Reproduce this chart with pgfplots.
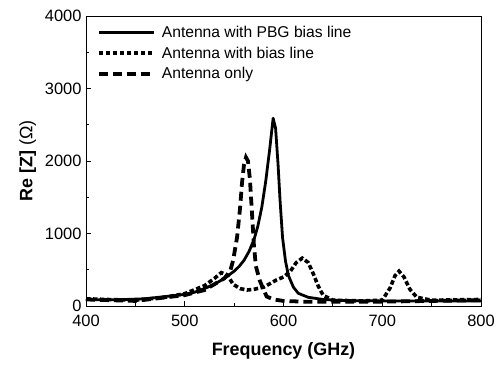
\documentclass[border=0pt]{standalone}
\usepackage{pgfplots}
\pgfplotsset{compat=1.18}
\usepackage{fontspec}
\setmainfont{Liberation Sans}
\begin{document}
\begin{tikzpicture}
\begin{axis}[
  scale only axis, width=395bp, height=290bp,
  xmin=400, xmax=800, ymin=0, ymax=4000,
  xtick={400,500,600,700,800}, ytick={0,1000,2000,3000,4000},
  minor x tick num=1, minor y tick num=1,
  tick pos=left, tick align=inside,
  major tick length=5bp, minor tick length=3bp,
  axis line style={line width=1pt}, tick style={line width=0.8pt, black},
  /pgf/number format/assume math mode=true,
  /pgf/number format/1000 sep={},
  tick label style={font=\fontsize{16.5}{18}\selectfont},
  xticklabel style={yshift=-6bp},
  yticklabel style={xshift=-1bp},
  xlabel={\bfseries Frequency (GHz)},
  ylabel={{\bfseries Re [Z]} (Ω)},
  label style={font=\fontsize{18}{20}\selectfont},
  xlabel style={yshift=-9bp},
  ylabel style={yshift=2bp},
  legend style={draw=none, fill=none, at={(0.02,0.98)}, anchor=north west,
    font=\fontsize{15.7}{17}\selectfont, row sep=4pt,
    nodes={inner xsep=6bp}},
  legend cell align=left,
  legend image code/.code={\draw[#1] (0cm,0cm) -- (55bp,0cm);},
]
\addplot[black, line width=2.8pt, line join=round] coordinates {
(400,90) (420,85) (440,90) (460,100) (480,130) (500,160) (510,190) (520,240) (530,300) (540,380) (550,480) (555,545) (560,630) (565,750) (570,910) (574,1100) (578,1360) (582,1720) (586,2160) (589.5,2590) (592,2450) (594.5,1950) (596.5,1460) (599,950) (602,620) (605,420) (610,260) (615,175) (625,120) (640,90) (660,75) (700,70) (750,70) (800,70)};
\addlegendentry{Antenna with PBG bias line}
\addplot[black, line width=3.6pt, dash pattern=on 4.5pt off 2.5pt] coordinates {
(400,100) (420,90) (450,80) (480,120) (500,170) (520,280) (530,380) (537,460) (543,430) (549,300) (556,240) (563,220) (570,230) (580,260) (593,360) (600,400) (607,480) (613,600) (619,660) (625,600) (630,450) (635,280) (640,150) (650,80) (680,70) (700,80) (708,250) (713,420) (717,480) (722,400) (728,230) (735,120) (750,80) (800,90)};
\addlegendentry{Antenna with bias line}
\addplot[black, line width=3.8pt, dash pattern=on 9pt off 5pt] coordinates {
(400,90) (450,70) (500,150) (520,220) (540,380) (546,480) (549,630) (553,950) (556,1350) (558,1700) (560,1950) (562,2050) (564,2000) (566,1750) (568,1300) (570,850) (572,550) (576,350) (580,220) (583,130) (590,90) (600,70) (620,60) (700,60) (800,80)};
\addlegendentry{Antenna only}
\end{axis}
\useasboundingbox ([xshift=-86bp,yshift=-60bp]current axis.south west) rectangle ([xshift=22bp,yshift=16bp]current axis.north east);
\end{tikzpicture}
\end{document}
